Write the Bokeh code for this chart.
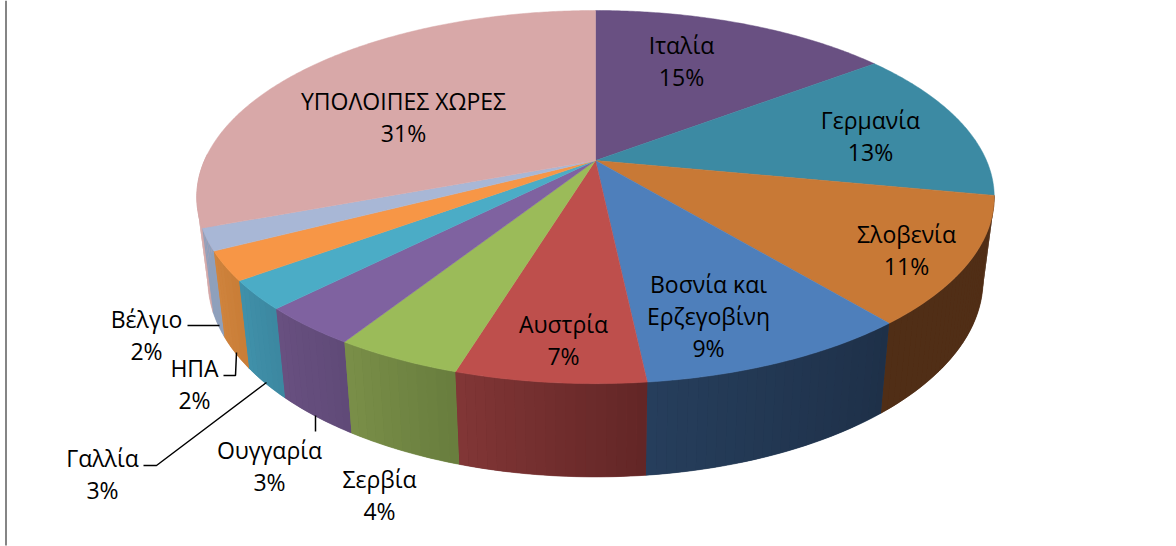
import math
from bokeh.plotting import figure
from bokeh.models import Range1d, ColumnDataSource
from bokeh.core.properties import value
from bokeh.embed import file_html
from bokeh.resources import INLINE

# ---- data (clockwise from 12 o'clock) ----
countries = ["Ιταλία", "Γερμανία", "Σλοβενία", "Βοσνία και Ερζεγοβίνη", "Αυστρία", "Σερβία",
             "Ουγγαρία", "Γαλλία", "ΗΠΑ", "Βέλγιο", "ΥΠΟΛΟΙΠΕΣ ΧΩΡΕΣ"]
shares = [14.7, 13.3, 11.0, 9.3, 6.4, 4.3, 3.4, 2.5, 2.5, 1.9, 30.7]
shown_pct = ["15%", "13%", "11%", "9%", "7%", "4%", "3%", "3%", "2%", "2%", "31%"]

# ---- styles ----
top_colors = ["#695082", "#3C8AA3", "#C87936", "#4E7FBB", "#BE4F4C", "#9BBB59",
              "#7F62A0", "#4BACC6", "#F79646", "#A8B7D6", "#D8A8A8"]
# wall colours at the start and end of each slice (clockwise)
wall_a = [None, None, (80, 46, 22), (30, 48, 72), (98, 38, 38), (104, 125, 62),
          (96, 74, 120), (60, 135, 160), (200, 125, 55), (143, 160, 188), (212, 168, 168)]
wall_b = [None, None, (80, 46, 22), (38, 62, 92), (130, 54, 54), (122, 143, 72),
          (104, 80, 128), (64, 145, 170), (208, 132, 62), (143, 160, 188), (212, 168, 168)]

# ---- layout, in reference pixels ----
CX, CY = 595.0, 160.0
A, B, T = 391.0, 179.4, 0.196
SX, SY, OFF = 0.972, 1.055, 81.0
FONT = "Open Sans"
SIZE = "23px"
label_lines = [
    (681, 44, ["Ιταλία", "15%"]),
    (870, 119, ["Γερμανία", "13%"]),
    (906, 233, ["Σλοβενία", "11%"]),
    (708, 283, ["Βοσνία και", "Ερζεγοβίνη", "9%"]),
    (563, 323, ["Αυστρία", "7%"]),
    (379, 478, ["Σερβία", "4%"]),
    (269, 449, ["Ουγγαρία", "3%"]),
    (102, 457, ["Γαλλία", "3%"]),
    (194, 367, ["ΗΠΑ", "2%"]),
    (146, 318, ["Βέλγιο", "2%"]),
    (403, 100, ["ΥΠΟΛΟΙΠΕΣ ΧΩΡΕΣ", "31%"]),
]
leaders = [
    ([187, 219], [325, 325]),
    ([223, 235, 236], [375, 375, 352]),
    ([143, 156, 266], [465, 465, 382]),
    ([315, 315], [415, 431]),
]


def top_pt(deg):
    t = math.radians(deg)
    u, v = math.sin(t), -math.cos(t)
    d = 1 - T * v
    return A * u / d, B * v / d


def bottom_pt(deg):
    dx, dy = top_pt(deg)
    return CX + SX * dx, CY + OFF + SY * dy


p = figure(width=1176, height=546, x_range=Range1d(0, 1176), y_range=Range1d(546, 0),
           output_backend="svg", toolbar_location=None, min_border=0,
           x_axis_type=None, y_axis_type=None)
p.grid.visible = False
p.outline_line_color = None
p.background_fill_color = "white"
p.border_fill_color = "white"

# frame line on the left
p.line([5.5, 5.5], [0, 545], line_color="#858585", line_width=2)

# cumulative boundaries
bounds = [0.0]
for s in shares:
    bounds.append(bounds[-1] + s)
total = bounds[-1]
angles = [b / total * 360 for b in bounds]

# side walls: a base in the mean colour, then gradient bands, back to front
strips, bases = [], []
for i, (a0, a1) in enumerate(zip(angles[:-1], angles[1:])):
    if wall_a[i] is None:
        continue
    last = min(a1, 272.0)
    mean = "#%02x%02x%02x" % tuple((wall_a[i][j] + wall_b[i][j]) // 2 for j in range(3))
    steps = [a0 + (last - a0) * k / 24 for k in range(25)]
    tp = [top_pt(d) for d in steps]
    bt = [bottom_pt(d) for d in steps]
    bases.append((abs((a0 + last) / 2 - 180),
                  [CX + q[0] for q in tp] + [q[0] for q in reversed(bt)],
                  [CY + q[1] for q in tp] + [q[1] for q in reversed(bt)],
                  mean))
    n = max(2, int((last - a0) / 1.2))
    for k in range(n):
        d0 = a0 + (last - a0) * k / n
        d1 = a0 + (last - a0) * (k + 1) / n
        f = (k + 0.5) / n
        c = tuple(int(round(wall_a[i][j] + (wall_b[i][j] - wall_a[i][j]) * f)) for j in range(3))
        t0, t1 = top_pt(d0), top_pt(d1)
        b0, b1 = bottom_pt(d0), bottom_pt(d1)
        strips.append((abs((d0 + d1) / 2 - 180),
                       [CX + t0[0], CX + t1[0], b1[0], b0[0]],
                       [CY + t0[1], CY + t1[1], b1[1], b0[1]],
                       "#%02x%02x%02x" % c))
bases.sort(key=lambda r: -r[0])
p.patches([r[1] for r in bases], [r[2] for r in bases], fill_color=[r[3] for r in bases],
          line_color=[r[3] for r in bases], line_width=0.6)
strips.sort(key=lambda r: -r[0])
p.patches([r[1] for r in strips], [r[2] for r in strips], fill_color=[r[3] for r in strips],
          line_color=None)

# top face
xs, ys = [], []
for a0, a1 in zip(angles[:-1], angles[1:]):
    n = max(4, int((a1 - a0) / 0.5))
    px, py = [CX], [CY]
    for k in range(n + 1):
        dx, dy = top_pt(a0 + (a1 - a0) * k / n)
        px.append(CX + dx)
        py.append(CY + dy)
    xs.append(px)
    ys.append(py)
p.patches(xs, ys, fill_color=top_colors, line_color=top_colors, line_width=0.5)

# leader lines
p.multi_line([l[0] for l in leaders], [l[1] for l in leaders], line_color="#000000", line_width=1.5)

# labels
tx, ty, tt = [], [], []
for x, y, lines in label_lines:
    for n, line in enumerate(lines):
        tx.append(x)
        ty.append(y + n * 32.3)
        tt.append(line)
src = ColumnDataSource(dict(x=tx, y=ty, t=tt))
p.text("x", "y", text="t", source=src, text_align="center", text_baseline="middle",
       text_font=value(FONT), text_font_size=SIZE, text_color="#000000")

open("out.html", "w").write(file_html(p, INLINE))
